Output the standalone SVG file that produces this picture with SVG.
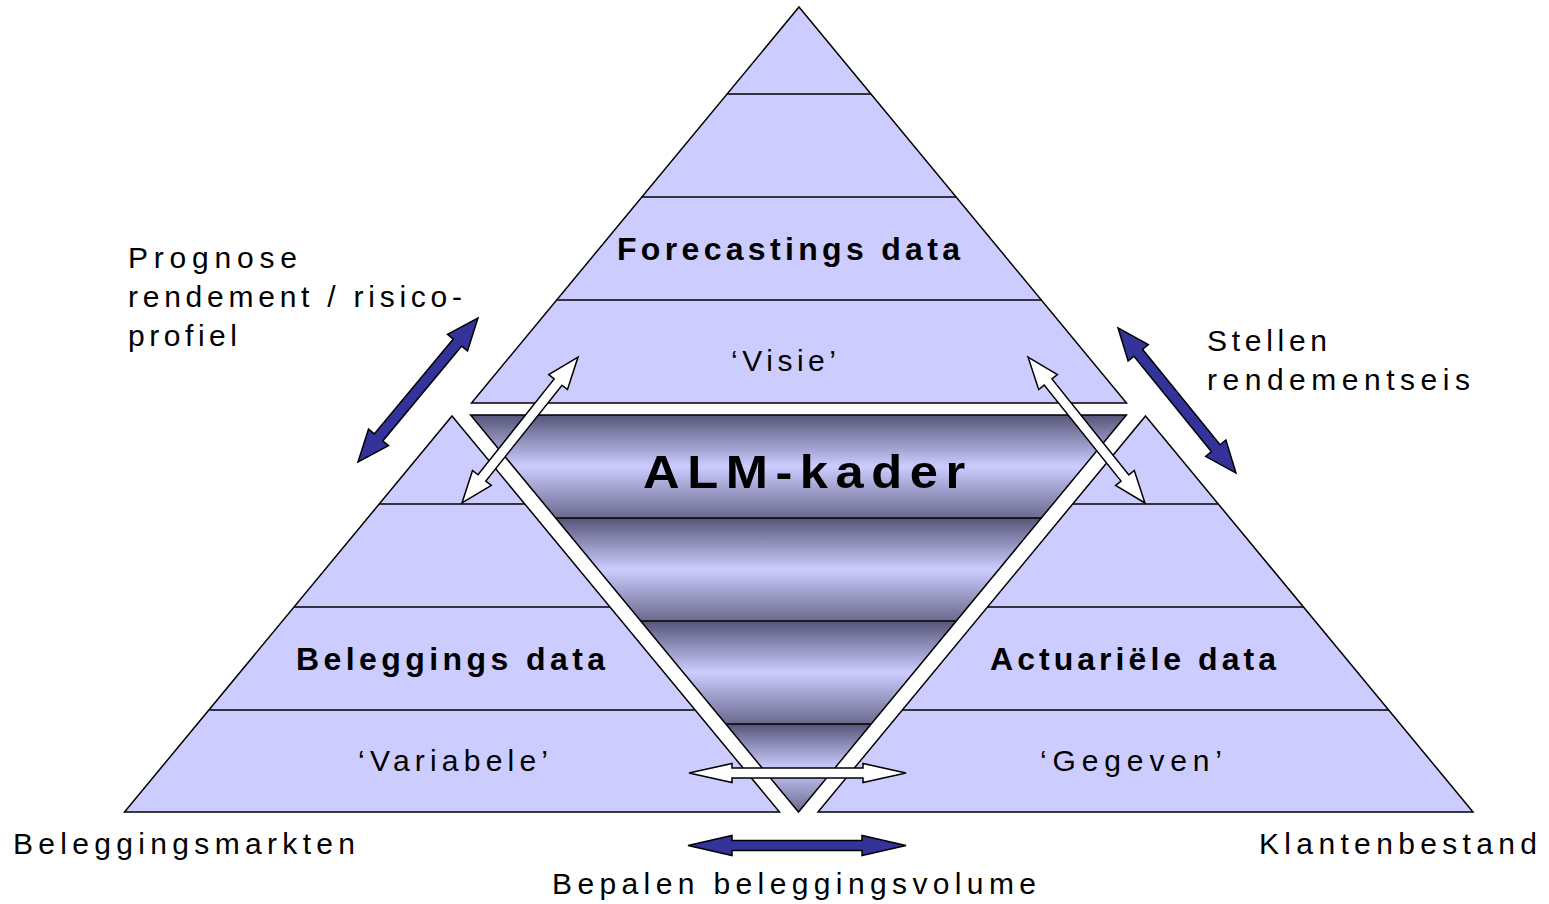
<svg xmlns="http://www.w3.org/2000/svg" width="1549" height="904" viewBox="0 0 1549 904">
  <defs>
    <style>
      .tri { fill: #ccccff; stroke: #000; stroke-width: 1.5; stroke-linejoin: miter; }
      .sep { stroke: #000; stroke-width: 1.5; }
      .band { fill: url(#bandShade); }
      .inv { fill: none; stroke: #000; stroke-width: 1.5; }
      .arrW { fill: #fff; stroke: #000; stroke-width: 1.5; stroke-linejoin: miter; }
      .arrB { fill: #333399; stroke: #000; stroke-width: 1.5; stroke-linejoin: miter; }
      text { font-family: "Liberation Sans", Arial, sans-serif; fill: #000; }
      .hd { font-size: 32px; font-weight: bold; }
      .big { font-size: 46px; font-weight: bold; }
      .lb { font-size: 30px; }
    </style>
    <linearGradient id="bandShade" x1="0" y1="0" x2="0" y2="1">
      <stop offset="0" stop-color="#56567a"/>
      <stop offset="0.5" stop-color="#ccccff"/>
      <stop offset="1" stop-color="#6a6a8e"/>
    </linearGradient>
  </defs>
  <rect width="1549" height="904" fill="#fff"/>

  <!-- upper pyramid: forecasting -->
  <g id="pyramid-top">
    <polygon class="tri" points="799,7 1126.5,403 471.5,403"/>
    <line class="sep" x1="726.8" y1="94" x2="871.2" y2="94"/>
    <line class="sep" x1="641.4" y1="197" x2="956.6" y2="197"/>
    <line class="sep" x1="556" y1="300" x2="1042" y2="300"/>
    <text class="hd" x="617" y="260" textLength="343" lengthAdjust="spacing">Forecastings data</text>
    <text class="lb" x="731" y="371" textLength="105" lengthAdjust="spacing">‘Visie’</text>
  </g>

  <!-- lower left pyramid: investments -->
  <g id="pyramid-left">
    <polygon class="tri" points="452,416 779.5,812 124.5,812"/>
    <line class="sep" x1="379.3" y1="504" x2="524.7" y2="504"/>
    <line class="sep" x1="294.2" y1="607" x2="609.8" y2="607"/>
    <line class="sep" x1="209.2" y1="710" x2="694.8" y2="710"/>
    <text class="hd" x="296" y="670" textLength="309" lengthAdjust="spacing">Beleggings data</text>
    <text class="lb" x="358" y="771" textLength="190" lengthAdjust="spacing">‘Variabele’</text>
  </g>

  <!-- lower right pyramid: actuarial -->
  <g id="pyramid-right">
    <polygon class="tri" points="1145.5,416 1473,812 818,812"/>
    <line class="sep" x1="1072.8" y1="504" x2="1218.2" y2="504"/>
    <line class="sep" x1="987.7" y1="607" x2="1303.3" y2="607"/>
    <line class="sep" x1="902.7" y1="710" x2="1388.3" y2="710"/>
    <text class="hd" x="990" y="670" textLength="286" lengthAdjust="spacing">Actuariële data</text>
    <text class="lb" x="1040" y="771" textLength="182" lengthAdjust="spacing">‘Gegeven’</text>
  </g>

  <!-- inverted centre triangle: ALM framework, shaded bands -->
  <g id="alm-kader">
    <polygon class="band" points="470.6,415 1126.4,415 1041.3,518 555.7,518"/>
    <polygon class="band" points="555.7,518 1041.3,518 956.3,621 640.7,621"/>
    <polygon class="band" points="640.7,621 956.3,621 871.2,724 725.8,724"/>
    <polygon class="band" points="725.8,724 871.2,724 798.5,812"/>
    <polygon class="inv" points="470.6,415 1126.4,415 798.5,812"/>
    <line class="sep" x1="555.7" y1="518" x2="1041.3" y2="518"/>
    <line class="sep" x1="640.7" y1="621" x2="956.3" y2="621"/>
    <line class="sep" x1="725.8" y1="724" x2="871.2" y2="724"/>
    <text class="big" transform="translate(643,488) scale(1.1,1)" x="0" y="0" textLength="293" lengthAdjust="spacing">ALM-kader</text>
  </g>

  <!-- outside labels -->
  <g id="label-prognose">
    <text class="lb" x="128" y="268" textLength="169" lengthAdjust="spacing">Prognose</text>
    <text class="lb" x="128" y="307" textLength="334" lengthAdjust="spacing">rendement / risico-</text>
    <text class="lb" x="128" y="346" textLength="109" lengthAdjust="spacing">profiel</text>
  </g>
  <g id="label-stellen">
    <text class="lb" x="1207" y="351" textLength="120" lengthAdjust="spacing">Stellen</text>
    <text class="lb" x="1207" y="390" textLength="263" lengthAdjust="spacing">rendementseis</text>
  </g>
  <g id="label-markten">
    <text class="lb" x="13" y="854" textLength="342" lengthAdjust="spacing">Beleggingsmarkten</text>
  </g>
  <g id="label-klanten">
    <text class="lb" x="1259" y="854" textLength="278" lengthAdjust="spacing">Klantenbestand</text>
  </g>
  <g id="label-volume">
    <text class="lb" x="552" y="894" textLength="484" lengthAdjust="spacing">Bepalen beleggingsvolume</text>
  </g>

  <!-- connectors: double-headed block arrows -->
  <g id="connectors">
    <!-- white: data exchange with the framework -->
    <path class="arrW" transform="translate(520,430) rotate(-51.5)" d="M-93.2,0 L-61.2,-12 L-61.2,-5 L61.2,-5 L61.2,-12 L93.2,0 L61.2,12 L61.2,5 L-61.2,5 L-61.2,12 Z"/>
    <path class="arrW" transform="translate(1086.5,430) rotate(51.3)" d="M-93.5,0 L-61.5,-12 L-61.5,-5 L61.5,-5 L61.5,-12 L93.5,0 L61.5,12 L61.5,5 L-61.5,5 L-61.5,12 Z"/>
    <path class="arrW" transform="translate(797.5,773)" d="M-108.5,0 L-65.5,-9.5 L-65.5,-5 L65.5,-5 L65.5,-9.5 L108.5,0 L65.5,9.5 L65.5,5 L-65.5,5 L-65.5,9.5 Z"/>
    <!-- blue: outside influences -->
    <path class="arrB" transform="translate(418,390) rotate(-50.2)" d="M-93.7,0 L-61.7,-13 L-61.7,-5.5 L61.7,-5.5 L61.7,-13 L93.7,0 L61.7,13 L61.7,5.5 L-61.7,5.5 L-61.7,13 Z"/>
    <path class="arrB" transform="translate(1177,400.5) rotate(50.9)" d="M-93.5,0 L-61.5,-13 L-61.5,-5.5 L61.5,-5.5 L61.5,-13 L93.5,0 L61.5,13 L61.5,5.5 L-61.5,5.5 L-61.5,13 Z"/>
    <path class="arrB" transform="translate(797,845.5)" d="M-109,0 L-65,-10 L-65,-5 L65,-5 L65,-10 L109,0 L65,10 L65,5 L-65,5 L-65,10 Z"/>
  </g>
</svg>
